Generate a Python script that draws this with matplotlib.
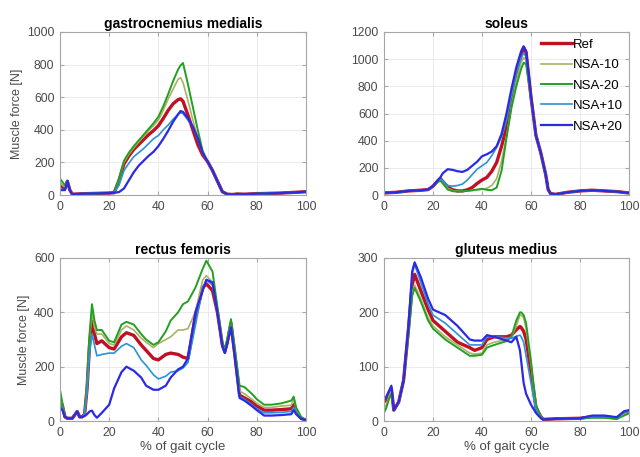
import matplotlib
matplotlib.use("Agg")
import matplotlib.pyplot as plt

plt.rcParams["font.family"] = ["Liberation Sans", "DejaVu Sans"]

series = ["Ref", "NSA-10", "NSA-20", "NSA+10", "NSA+20"]
colors = ["#c01024", "#a9b264", "#22a022", "#2a92d6", "#2a2ae6"]
widths = [2.4, 1.2, 1.4, 1.2, 1.6]

# gastrocnemius medialis
gm_x = [0, 1, 2, 3, 4, 5, 10, 15, 20, 22, 24, 26, 28, 30, 32, 34, 36, 38, 40, 42,
        44, 46, 48, 49, 50, 52, 54, 56, 58, 60, 62, 64, 66, 68, 70, 72, 75, 80, 90, 100]
gm_ref = [60, 50, 40, 85, 30, 5, 8, 10, 12, 14, 90, 190, 240, 280, 310, 340, 370, 395, 425, 470,
          520, 560, 585, 590, 575, 490, 400, 310, 245, 205, 150, 85, 20, 5, 3, 6, 5, 8, 12, 20]
gm_m10 = [80, 60, 50, 85, 30, 5, 8, 10, 12, 14, 95, 200, 250, 290, 325, 360, 395, 425, 460, 520,
          590, 650, 710, 720, 690, 580, 460, 350, 255, 205, 150, 85, 20, 5, 3, 6, 5, 8, 12, 20]
gm_m20 = [100, 80, 60, 85, 30, 5, 8, 10, 12, 14, 100, 210, 260, 300, 335, 370, 405, 440, 480, 545,
          620, 700, 770, 795, 810, 680, 540, 400, 270, 205, 150, 85, 20, 5, 3, 8, 5, 8, 12, 20]
gm_p10 = [40, 35, 30, 85, 30, 5, 8, 10, 12, 14, 60, 150, 195, 235, 260, 285, 315, 345, 365, 400,
          430, 465, 495, 505, 500, 460, 420, 340, 260, 205, 150, 85, 20, 5, 3, 6, 5, 8, 12, 20]
gm_p20 = [30, 30, 30, 85, 30, 5, 8, 10, 12, 14, 18, 40, 90, 140, 180, 210, 240, 265, 300, 345,
          395, 450, 495, 515, 510, 470, 420, 350, 260, 205, 150, 85, 20, 5, 3, 6, 5, 8, 12, 20]

# soleus
sol_x = [0, 5, 10, 15, 18, 20, 22, 23, 24, 26, 28, 30, 32, 34, 36, 38, 40, 42, 44, 46,
         48, 50, 52, 54, 56, 57, 58, 60, 62, 64, 66, 67, 68, 70, 75, 80, 85, 90, 95, 100]
sol_ref = [15, 20, 30, 35, 40, 65, 105, 120, 100, 60, 38, 30, 30, 38, 55, 85, 110, 130, 175, 240,
           360, 500, 690, 880, 1030, 1085, 1050, 720, 440, 310, 150, 40, 10, 5, 20, 30, 35, 30, 25, 15]
sol_m10 = [15, 20, 30, 35, 40, 65, 100, 112, 90, 50, 32, 28, 28, 30, 33, 38, 42, 50, 70, 120,
           250, 430, 650, 840, 980, 1010, 990, 720, 440, 310, 150, 40, 10, 5, 20, 30, 35, 30, 25, 15]
sol_m20 = [15, 20, 30, 35, 40, 65, 95, 105, 85, 40, 28, 25, 27, 30, 35, 40, 45, 38, 35, 55,
           180, 420, 640, 800, 930, 975, 960, 710, 440, 310, 150, 40, 10, 5, 20, 30, 35, 30, 25, 15]
sol_p10 = [15, 20, 30, 35, 40, 65, 105, 118, 105, 70, 65, 70, 80, 110, 150, 190, 215, 240, 290, 350,
           430, 550, 730, 900, 1010, 1045, 1020, 720, 440, 310, 150, 40, 10, 5, 20, 30, 35, 30, 25, 15]
sol_p20 = [15, 20, 30, 35, 40, 65, 110, 130, 160, 190, 185, 175, 170, 185, 215, 245, 285, 300, 320, 360,
           450, 600, 780, 940, 1060, 1095, 1060, 730, 440, 310, 150, 40, 10, 5, 20, 30, 35, 30, 25, 15]

# rectus femoris
rf_x = [0, 1, 2, 3, 5, 7, 8, 9, 10, 11, 12, 13, 14, 15, 17, 20, 22, 25, 27, 30, 33, 35, 38, 40, 43,
        45, 48, 50, 52, 55, 58, 59.5, 62, 64, 66, 67, 68, 69.5, 71, 73, 75, 78, 80, 83, 86, 90, 94,
        95, 96, 98, 100]
rf_ref = [80, 55, 15, 10, 10, 35, 15, 15, 25, 120, 280, 370, 320, 285, 295, 270, 265, 310, 325, 315,
          280, 260, 230, 225, 245, 250, 245, 235, 230, 380, 490, 505, 480, 400, 280, 255, 290, 360,
          250, 95, 85, 70, 55, 40, 40, 42, 45, 60, 35, 10, 3]
rf_m10 = [95, 60, 15, 10, 10, 35, 15, 15, 25, 130, 300, 400, 345, 320, 320, 285, 280, 335, 350, 335,
          305, 290, 270, 285, 300, 310, 335, 335, 340, 400, 520, 535, 510, 410, 285, 260, 295, 370,
          260, 110, 100, 80, 65, 50, 50, 55, 58, 80, 45, 12, 3]
rf_m20 = [115, 65, 15, 10, 10, 35, 15, 15, 25, 140, 320, 430, 370, 335, 335, 295, 290, 355, 365, 355,
          320, 300, 280, 290, 330, 370, 400, 430, 440, 490, 560, 590, 550, 420, 290, 265, 300, 375,
          270, 130, 125, 100, 80, 60, 60, 65, 75, 90, 50, 15, 3]
rf_p10 = [60, 45, 15, 10, 10, 35, 15, 15, 25, 110, 250, 320, 280, 240, 245, 250, 250, 275, 285, 270,
          225, 205, 170, 155, 165, 180, 185, 195, 215, 350, 490, 520, 500, 400, 275, 250, 285, 350,
          245, 90, 80, 60, 45, 30, 30, 32, 35, 50, 30, 8, 3]
rf_p20 = [50, 40, 15, 10, 10, 35, 15, 15, 18, 25, 35, 38, 22, 12, 30, 60, 120, 180, 200, 185,
          160, 130, 115, 115, 130, 160, 190, 200, 230, 400, 480, 520, 510, 400, 275, 250, 285, 345,
          240, 85, 75, 55, 40, 20, 20, 22, 25, 40, 25, 8, 3]

# gluteus medius
gmed_x = [0, 1, 2, 3, 4, 6, 8, 10, 11.5, 12.5, 15, 18, 20, 25, 30, 35, 37, 40, 42, 45, 50, 52,
          54, 55.5, 56, 57, 58, 60, 62, 64, 65, 70, 80, 85, 90, 95, 98, 100]
gmed_ref = [35, 40, 50, 60, 20, 35, 75, 170, 250, 270, 240, 205, 185, 165, 145, 135, 130, 135, 150,
            155, 155, 158, 168, 174, 172, 165, 150, 90, 25, 8, 3, 4, 5, 8, 8, 5, 15, 18]
gmed_m10 = [25, 30, 45, 55, 20, 35, 75, 165, 235, 250, 225, 190, 175, 155, 140, 125, 123, 125, 140,
            145, 150, 155, 175, 195, 195, 190, 170, 105, 28, 8, 3, 4, 5, 7, 7, 5, 12, 15]
gmed_m20 = [15, 25, 40, 50, 20, 35, 75, 160, 230, 245, 220, 185, 170, 150, 135, 120, 120, 122, 135,
            140, 147, 155, 185, 200, 200, 195, 180, 110, 30, 8, 3, 4, 5, 6, 6, 4, 10, 14]
gmed_p10 = [40, 45, 55, 62, 20, 35, 75, 175, 270, 288, 255, 215, 195, 180, 160, 140, 140, 140, 155,
            155, 153, 152, 156, 158, 155, 145, 120, 70, 20, 6, 3, 4, 5, 8, 9, 6, 16, 18]
gmed_p20 = [40, 45, 55, 65, 20, 35, 75, 175, 275, 292, 265, 225, 205, 195, 175, 150, 148, 148, 158,
            155, 148, 145, 155, 130, 110, 70, 50, 30, 15, 5, 3, 4, 5, 10, 10, 7, 18, 20]

panels = [
    ("gastrocnemius medialis", gm_x, [gm_ref, gm_m10, gm_m20, gm_p10, gm_p20], 1000, 200),
    ("soleus", sol_x, [sol_ref, sol_m10, sol_m20, sol_p10, sol_p20], 1200, 200),
    ("rectus femoris", rf_x, [rf_ref, rf_m10, rf_m20, rf_p10, rf_p20], 600, 200),
    ("gluteus medius", gmed_x, [gmed_ref, gmed_m10, gmed_m20, gmed_p10, gmed_p20], 300, 100),
]

fig = plt.figure(figsize=(6.4, 4.57), dpi=100)
W, H = 640, 457
boxes = [(60, 32, 306, 195), (384, 32, 629, 195), (60, 258, 306, 421), (384, 258, 629, 421)]

for i, (title, x, ys, ymax, ystep) in enumerate(panels):
    l, t, r, b = boxes[i]
    ax = fig.add_axes([l / W, 1 - b / H, (r - l) / W, (b - t) / H])
    for name, y, c, lw in zip(series, ys, colors, widths):
        ax.plot(x, y, color=c, lw=lw, label=name)
    ax.set_xlim(0, 100)
    ax.set_ylim(0, ymax)
    ax.set_xticks(range(0, 101, 20))
    ax.set_yticks(range(0, ymax + 1, ystep))
    ax.grid(True, color="#e8e8e8", lw=0.6)
    ax.set_axisbelow(True)
    for s in ax.spines.values():
        s.set_color("#a6a6a6")
        s.set_linewidth(0.8)
    ax.tick_params(direction="in", length=3, color="#a6a6a6", labelsize=8.8,
                   labelcolor="#4a4a4a", top=True, right=True, pad=4)
    ax.set_title(title, fontsize=10, fontweight="bold", pad=3)
    if i % 2 == 0:
        ax.set_ylabel("Muscle force [N]", fontsize=9, color="#4a4a4a", labelpad=3)
    if i >= 2:
        ax.set_xlabel("% of gait cycle", fontsize=9.5, color="#4a4a4a", labelpad=2)
    if i == 1:
        ax.legend(loc="upper right", frameon=False, fontsize=9.5, handlelength=2.3,
                  handletextpad=0.05, labelspacing=0.62, borderaxespad=0.2,
                  borderpad=0.3)

fig.savefig("out.png", dpi=100)
